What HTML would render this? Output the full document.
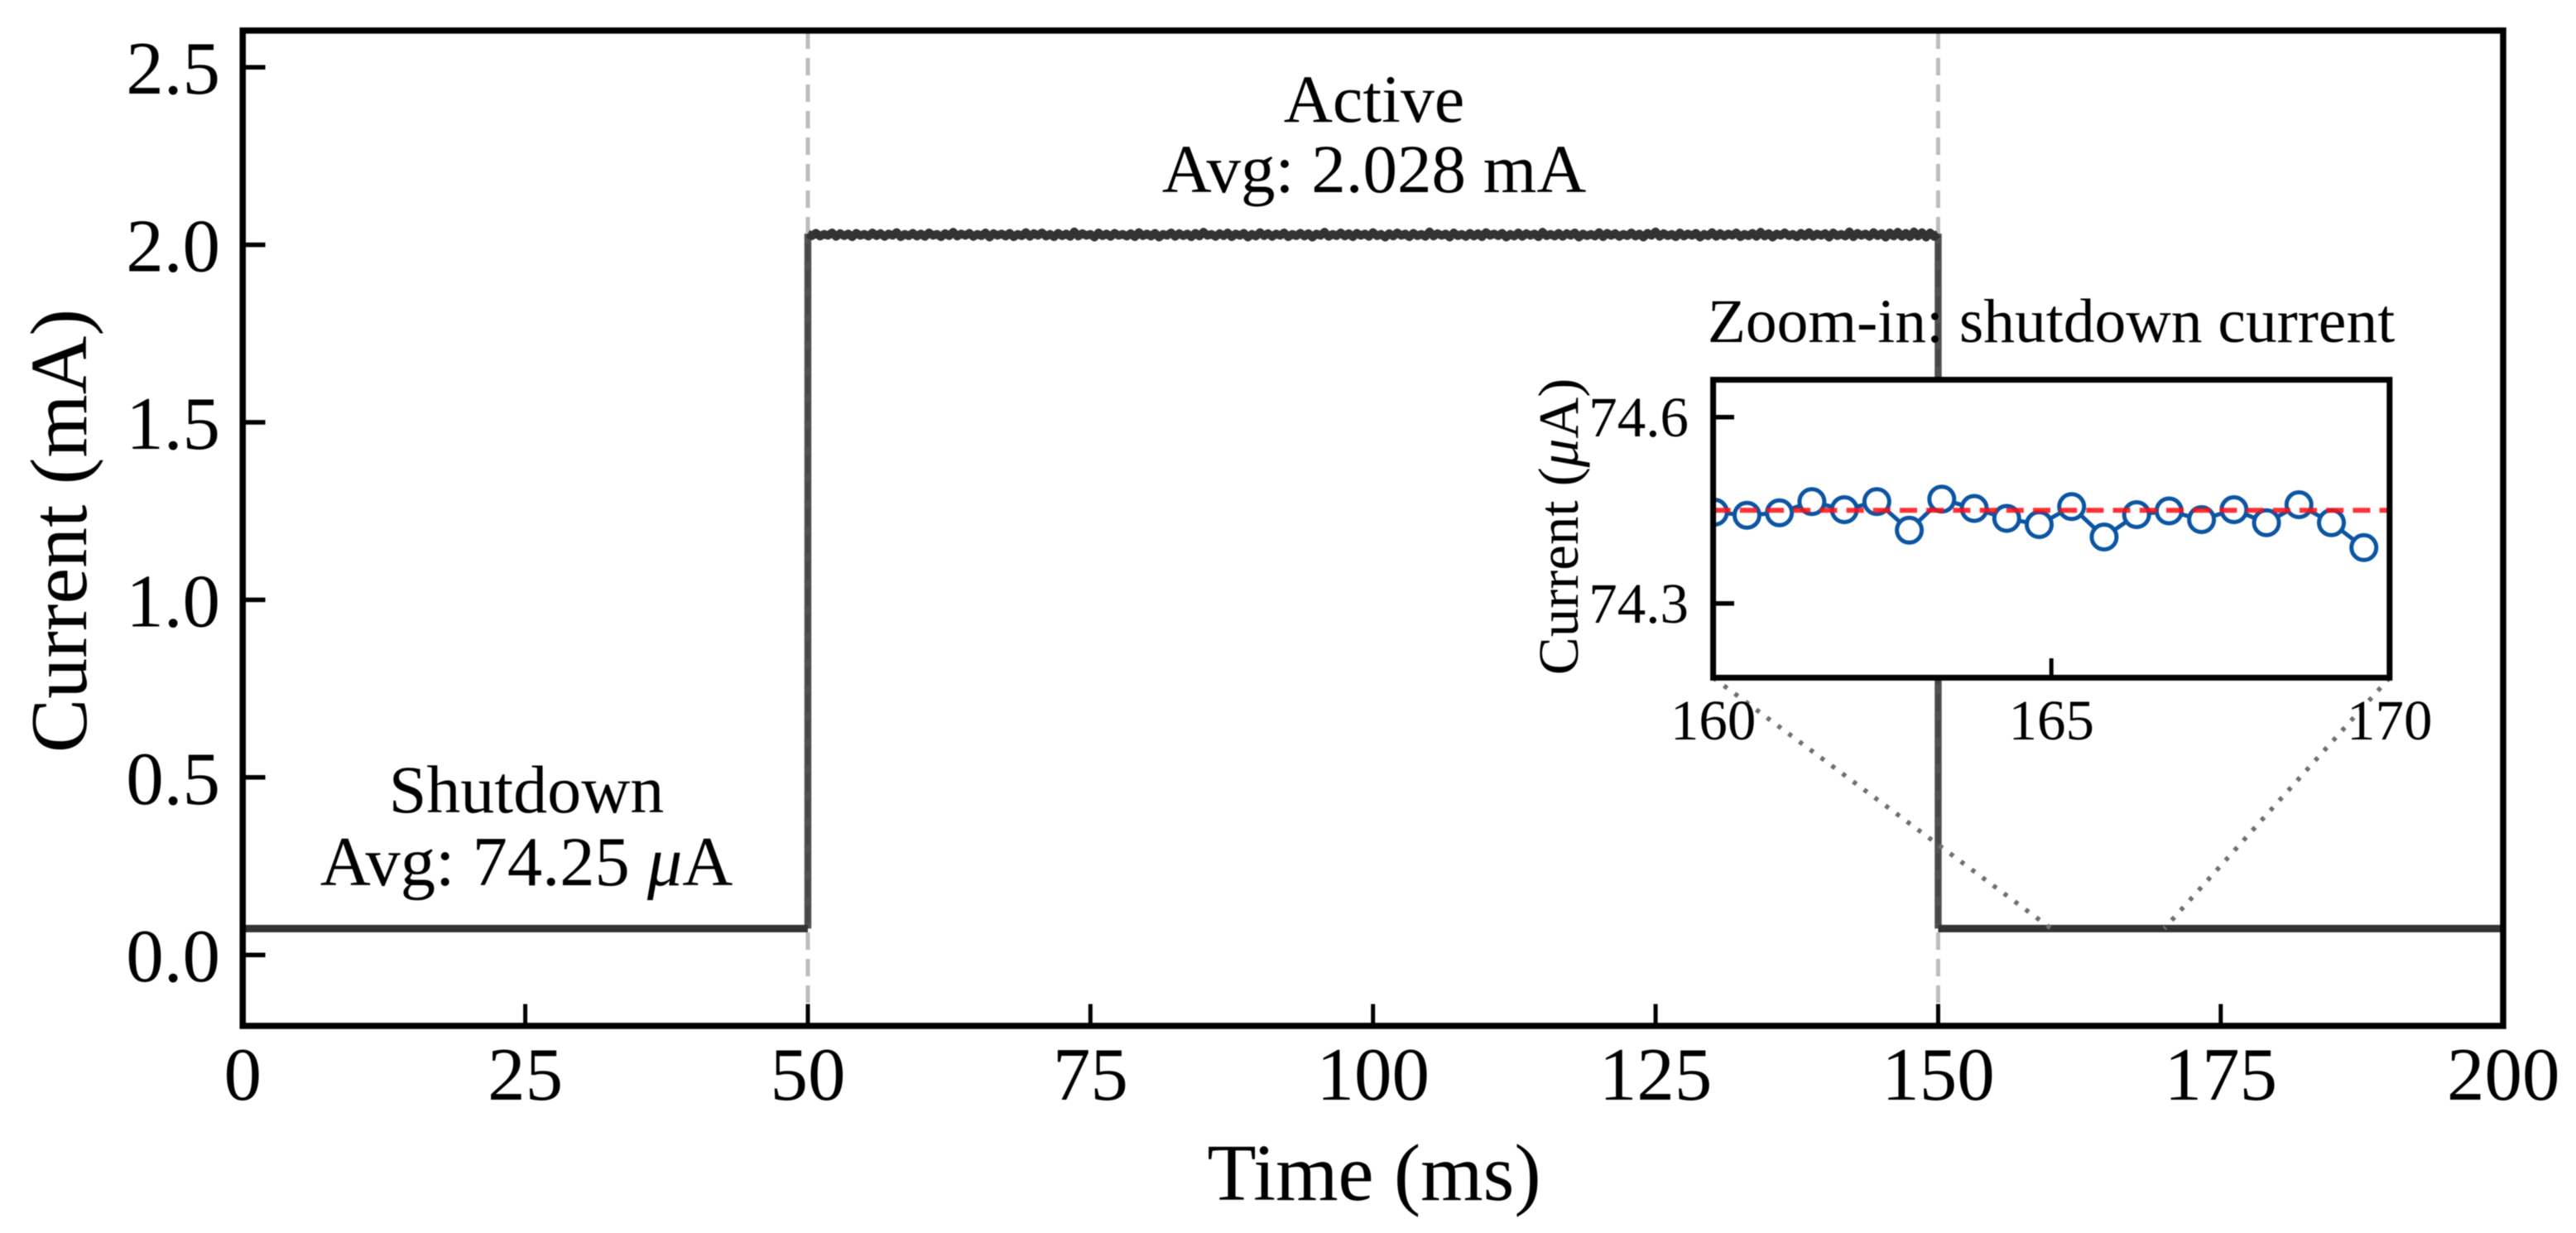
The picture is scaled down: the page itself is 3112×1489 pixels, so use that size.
<!DOCTYPE html>
<html lang="en">
<head>
<meta charset="utf-8">
<title>Current vs time: active and shutdown</title>
<style>
  html, body { margin: 0; padding: 0; background: #fff; }
  #chart { display: block; width: 3112px; height: 1489px; filter: blur(0.6px); }
  text { font-family: "Liberation Serif", "Times New Roman", serif; fill: #000; }
</style>
</head>
<body>
<svg id="chart" xmlns="http://www.w3.org/2000/svg" width="3112" height="1489" viewBox="0 0 3112 1489">
  <rect x="0" y="0" width="3112" height="1489" fill="#ffffff"/>
  <g id="main-marks"></g>
  <g id="main-ticks"></g>
  <rect x="293.2" y="36.9" width="2730.8" height="1202" fill="none" stroke="#000" stroke-width="7.5"/>
  <text transform="translate(104 641) rotate(-90)" text-anchor="middle" font-size="98">Current (mA)</text>
  <text x="1660" y="1449" text-anchor="middle" font-size="97">Time (ms)</text>
  <text x="636" y="981" text-anchor="middle" font-size="82">Shutdown</text>
  <text x="636" y="1069" text-anchor="middle" font-size="84.5">Avg: 74.25 <tspan font-style="italic">μ</tspan>A</text>
  <text x="1660" y="147" text-anchor="middle" font-size="82">Active</text>
  <text x="1660" y="232" text-anchor="middle" font-size="83">Avg: 2.028 mA</text>

  <g id="connectors"></g>

  <rect x="2069.6" y="458.6" width="817.2" height="359.8" fill="#ffffff"/>
  <g id="inset-marks"></g>
  <g id="inset-ticks"></g>
  <rect x="2069.6" y="458.6" width="817.2" height="359.8" fill="none" stroke="#000" stroke-width="7"/>
  <text x="2478" y="413" text-anchor="middle" font-size="75.5">Zoom-in: shutdown current</text>
  <text transform="translate(1906 636) rotate(-90)" text-anchor="middle" font-size="69">Current (<tspan font-style="italic">μ</tspan>A)</text>
</svg>

<script>
// ---- main chart data ----
const xTicks = [0, 25, 50, 75, 100, 125, 150, 175, 200];
const yTicks = [0.0, 0.5, 1.0, 1.5, 2.0, 2.5];
const yTickLabels = ['0.0', '0.5', '1.0', '1.5', '2.0', '2.5'];
const phaseBoundaries = [50, 150];
const shutdownBeforeTime = [0, 50];
const shutdownBeforeCurrent = [0.07425, 0.07425];
const shutdownAfterTime = [150, 200];
const shutdownAfterCurrent = [0.07425, 0.07425];
const activeTimeRange = [50, 150];
const activeCurrent = [
  2.031,2.025,2.033,2.024,2.030,2.026,2.034,2.023,2.032,2.025,2.031,2.022,2.033,2.026,2.030,2.024,2.034,2.025,2.032,2.023,
  2.031,2.026,2.035,2.022,2.030,2.025,2.033,2.024,2.031,2.023,2.034,2.026,2.030,2.022,2.032,2.025,2.036,2.024,2.031,2.026,
  2.033,2.023,2.030,2.025,2.034,2.021,2.032,2.026,2.031,2.024,2.033,2.022,2.030,2.025,2.035,2.023,2.032,2.026,2.034,2.024,
  2.030,2.022,2.033,2.025,2.031,2.023,2.037,2.024,2.032,2.026,2.030,2.021,2.034,2.025,2.031,2.023,2.033,2.026,2.030,2.024,
  2.032,2.022,2.035,2.025,2.031,2.024,2.033,2.021,2.030,2.026,2.034,2.023,2.032,2.025,2.031,2.022,2.033,2.024,2.036,2.026,
  2.030,2.023,2.032,2.025,2.034,2.022,2.031,2.026,2.033,2.021,2.030,2.024,2.035,2.025,2.032,2.023,2.031,2.026,2.034,2.022,
  2.030,2.025,2.033,2.024,2.032,2.021,2.031,2.026,2.036,2.023,2.030,2.025,2.034,2.024,2.032,2.022,2.033,2.026,2.031,2.023,
  2.035,2.025,2.030,2.021,2.032,2.024,2.034,2.026,2.031,2.022,2.033,2.025,2.030,2.023,2.037,2.024,2.032,2.026,2.031,2.021,
  2.034,2.025,2.030,2.023,2.033,2.024,2.032,2.022,2.035,2.026,2.031,2.025,2.033,2.021,2.030,2.024,2.034,2.023,2.032,2.026,
  2.031,2.022,2.036,2.025,2.030,2.024,2.033,2.023,2.032,2.026,2.034,2.021,2.031,2.025,2.030,2.024,2.035,2.022,2.033,2.026,
  2.032,2.023,2.030,2.025,2.034,2.024,2.031,2.021,2.033,2.026,2.037,2.023,2.032,2.025,2.030,2.022,2.034,2.024,2.031,2.026,
  2.033,2.021,2.030,2.025,2.035,2.023,2.032,2.024,2.031,2.026,2.034,2.022,2.030,2.025,2.033,2.023,2.036,2.024,2.032,2.021,
  2.031,2.026,2.034,2.025,2.030,2.022,2.033,2.024,2.035,2.023,2.031,2.026,2.032,2.021,2.034,2.025,2.030,2.024,2.037,2.022,
  2.033,2.026,2.031,2.023,2.035,2.025,2.032,2.021,2.034,2.024,2.036,2.023,2.033,2.022,2.037,2.024,2.035,2.021,2.034,2.023,
  2.031
];

// ---- inset chart data ----
const insetXTicks = [160, 165, 170];
const insetYTicks = [74.3, 74.6];
const insetYTickLabels = ['74.3', '74.6'];
const insetAverage = [74.45, 74.45];
const insetAverageTime = [160, 170];
const insetTime = [160.02,160.50,160.98,161.46,161.94,162.42,162.90,163.38,163.86,164.34,164.82,165.30,165.78,166.26,166.74,167.22,167.70,168.18,168.66,169.14,169.62];
const insetCurrent = [74.447,74.442,74.446,74.464,74.451,74.464,74.418,74.468,74.453,74.437,74.427,74.456,74.407,74.443,74.449,74.435,74.451,74.430,74.459,74.430,74.390];

// ---- axis functions ----
const xScale = v => 293.2 + v * 13.655;
const yScale = v => 1153.2 - v * 428.8;
const insetX = v => 2069.6 + (v - 160) * 81.72;
const insetY = v => 503.8 + (74.6 - v) * 750;

const SVGNS = 'http://www.w3.org/2000/svg';
function make(tag, parent, attrs, text) {
  const node = document.createElementNS(SVGNS, tag);
  for (const k in attrs) node.setAttribute(k, attrs[k]);
  if (text !== undefined) node.textContent = text;
  parent.appendChild(node);
  return node;
}
function linePath(xs, ys, fx, fy) {
  return xs.map((x, i) => (i ? 'L' : 'M') + fx(x).toFixed(2) + ' ' + fy(ys[i]).toFixed(2)).join(' ');
}

const mainMarks = document.getElementById('main-marks');
const mainTicks = document.getElementById('main-ticks');
const connectors = document.getElementById('connectors');
const insetMarks = document.getElementById('inset-marks');
const insetTicks = document.getElementById('inset-ticks');

// phase boundary guides
phaseBoundaries.forEach(b => {
  const guide = make('line', mainMarks, { x1: xScale(b), x2: xScale(b), y1: 38, y2: 1236, stroke: '#bcbcbc', 'stroke-width': 5, 'stroke-dasharray': '21 11' });
  
  
});

// transitions
const activeTime = activeCurrent.map((_, i) => activeTimeRange[0] + i * (activeTimeRange[1] - activeTimeRange[0]) / (activeCurrent.length - 1));
const riseEdge = make('path', mainMarks, { d: linePath([activeTime[0], activeTime[0]], [shutdownBeforeCurrent[1], activeCurrent[0]], xScale, yScale), fill: 'none', stroke: '#333', 'stroke-opacity': 0.85, 'stroke-width': 8.5 });


const lastActive = activeCurrent.length - 1;
const fallEdge = make('path', mainMarks, { d: linePath([activeTime[lastActive], activeTime[lastActive]], [activeCurrent[lastActive], shutdownAfterCurrent[0]], xScale, yScale), fill: 'none', stroke: '#333', 'stroke-opacity': 0.85, 'stroke-width': 8.5 });



// current trace
const shutdownBefore = make('path', mainMarks, { d: linePath(shutdownBeforeTime, shutdownBeforeCurrent, xScale, yScale), fill: 'none', stroke: '#333', 'stroke-width': 9 });


const activeTrace = make('path', mainMarks, { d: linePath(activeTime, activeCurrent, xScale, yScale), fill: 'none', stroke: '#333', 'stroke-width': 10, 'stroke-linejoin': 'round' });


const shutdownAfter = make('path', mainMarks, { d: linePath(shutdownAfterTime, shutdownAfterCurrent, xScale, yScale), fill: 'none', stroke: '#333', 'stroke-width': 9 });



// main ticks
xTicks.forEach(v => {
  const tick = make('line', mainTicks, { x1: xScale(v), x2: xScale(v), y1: 1212.5, y2: 1239, stroke: '#000', 'stroke-width': 5 });
  
  
  const label = make('text', mainTicks, { x: xScale(v), y: 1328, 'text-anchor': 'middle', 'font-size': 91 }, String(v));
  
  
});
yTicks.forEach((v, i) => {
  const tick = make('line', mainTicks, { x1: 293, x2: 320.5, y1: yScale(v), y2: yScale(v), stroke: '#000', 'stroke-width': 5.5 });
  
  
  const label = make('text', mainTicks, { x: 266, y: yScale(v) + 32, 'text-anchor': 'end', 'font-size': 91 }, yTickLabels[i]);
  
  
});

// zoom connectors from the inset corners to the zoomed x-range
const connLeft = make('line', connectors, { x1: insetX(160), y1: 818.4, x2: xScale(160), y2: yScale(shutdownAfterCurrent[0]), stroke: '#6f6f6f', 'stroke-width': 5.5, 'stroke-dasharray': '5 11.2' });


const connRight = make('line', connectors, { x1: insetX(170), y1: 818.4, x2: xScale(170), y2: yScale(shutdownAfterCurrent[0]), stroke: '#6f6f6f', 'stroke-width': 5.5, 'stroke-dasharray': '5 11.2' });



// inset series, clipped to the inset axes
const clip = make('clipPath', insetMarks, { id: 'inset-clip' });
make('rect', clip, { x: 2069.6, y: 458.6, width: 817.2, height: 359.8 });
const insetClipped = make('g', insetMarks, { 'clip-path': 'url(#inset-clip)' });
const insetLine = make('path', insetClipped, { d: linePath(insetTime, insetCurrent, insetX, insetY), fill: 'none', stroke: '#0b55a3', 'stroke-width': 5 });


insetTime.forEach((t, i) => {
  const point = make('circle', insetClipped, { cx: insetX(t), cy: insetY(insetCurrent[i]), r: 15, fill: '#fff', stroke: '#0b55a3', 'stroke-width': 5 });
  
  
});
const averageLine = make('path', insetClipped, { d: linePath(insetAverageTime, insetAverage, insetX, insetY), fill: 'none', stroke: '#ff0f14', 'stroke-opacity': 0.85, 'stroke-width': 6, 'stroke-dasharray': '21 11.2' });



// inset ticks
insetXTicks.forEach(v => {
  const tick = make('line', insetTicks, { x1: insetX(v), x2: insetX(v), y1: 795, y2: 818, stroke: '#000', 'stroke-width': 5 });
  
  
  const label = make('text', insetTicks, { x: insetX(v), y: 893, 'text-anchor': 'middle', 'font-size': 69 }, String(v));
  
  
});
insetYTicks.forEach((v, i) => {
  const tick = make('line', insetTicks, { x1: 2070, x2: 2095, y1: insetY(v), y2: insetY(v), stroke: '#000', 'stroke-width': 5.5 });
  
  
  const label = make('text', insetTicks, { x: 2040, y: insetY(v) + 23, 'text-anchor': 'end', 'font-size': 69 }, insetYTickLabels[i]);
  
  
});
</script>
</body>
</html>
